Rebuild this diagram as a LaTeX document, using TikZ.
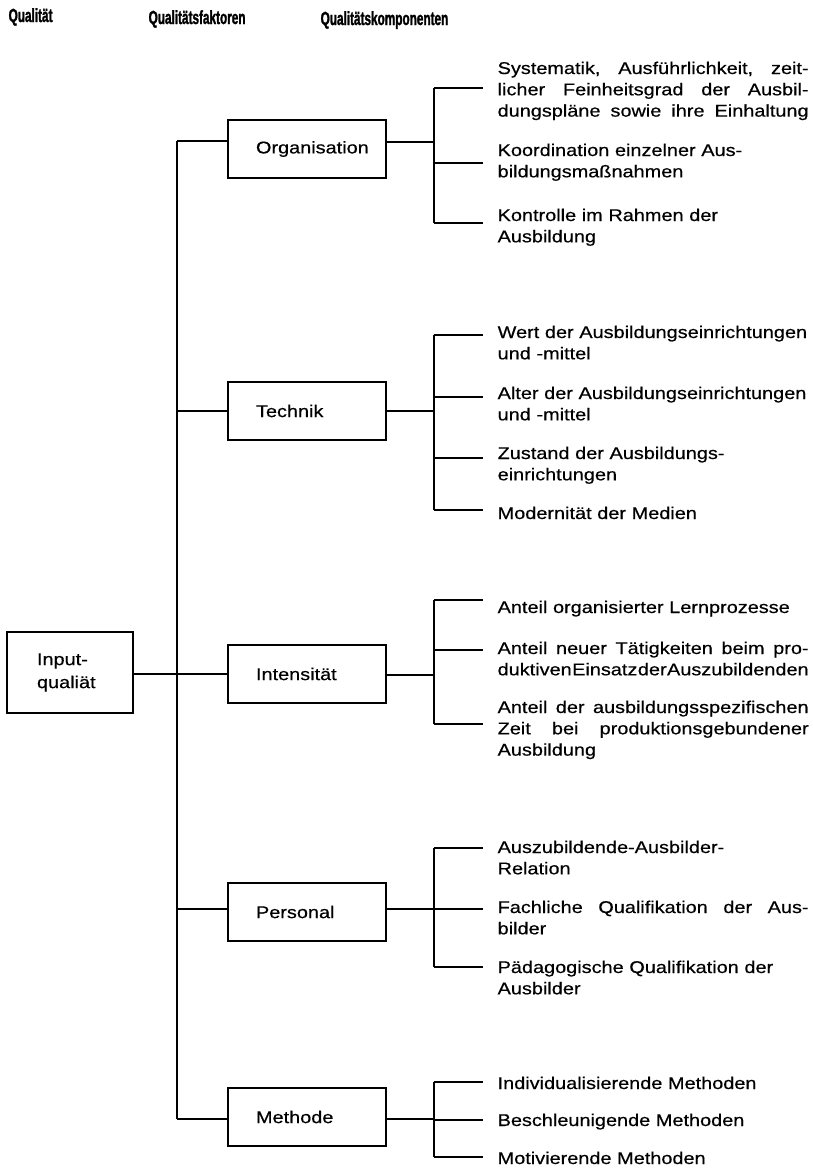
\documentclass[tikz,border=0pt]{standalone}
\usepackage{fontspec}
\setmainfont{Liberation Sans}[FakeStretch=1.17, FakeBold=0.5]
\newfontfamily\headfont{Liberation Sans}[FakeStretch=0.62, FakeBold=1.5]
\usepackage{tikz}
% justified line of a component text
\newcommand\jline[1]{\leavevmode\hbox to 311pt{\spaceskip=0.25em plus 1fil minus 0.25em
  \xspaceskip=\spaceskip\relax #1}}

\begin{document}
\begin{tikzpicture}[x=1pt, y=-1pt, line width=1.3pt,
    factor/.style={draw, line width=1.5pt, minimum height=58pt, text width=102pt,
      inner xsep=28pt, align=left, font=\fontsize{17}{21}\selectfont},
    root/.style={factor, minimum height=81pt, text width=66pt, inner xsep=30pt,
      font=\fontsize{17}{23}\selectfont},
    comp/.style={anchor=base west, inner sep=0pt, text width=311pt, align=left,
      font=\fontsize{17}{21.3}\selectfont},
    head/.style={anchor=base west, inner sep=0pt,
      font=\headfont\bfseries\fontsize{19}{20}\selectfont}]
    \useasboundingbox (0,0) rectangle (812,1170);

    % Column heads
    \node[head] (h1) at (8,22) {Qualität};
    \node[head] (h2) at (148,24) {Qualitätsfaktoren};
    \node[head] (h3) at (320,25) {Qualitätskomponenten};

    % Boxes
    \node[root] (inp) at (70,672.5) {Input-\\qualiät};
    \node[factor] (org) at (307,149) {Organisation};
    \node[factor] (tec) at (307,411) {Technik};
    \node[factor] (int) at (307,674) {Intensität};
    \node[factor] (per) at (307,912) {Personal};
    \node[factor] (met) at (307,1117) {Methode};

    % Spine
    \coordinate (s1) at (177,141);
    \coordinate (s2) at (177,411);
    \coordinate (s3) at (177,674);
    \coordinate (s4) at (177,909);
    \coordinate (s5) at (177,1119);
    \draw (s1) -- (s5);
    \draw (s1) -- (s1 -| org.west);
    \draw (s2) -- (s2 -| tec.west);
    \draw (inp.east |- s3) -- (s3 -| int.west);
    \draw (s4) -- (s4 -| per.west);
    \draw (s5) -- (s5 -| met.west);

    % Organisation
    \coordinate (ob) at (434,142);
    \draw (org.east |- ob) -- (ob);
    \node[comp] (o1) at (497,74) {\jline{Systematik, Ausführlichkeit, zeit-}\\
      \jline{licher Feinheitsgrad der Ausbil-}\\
      \jline{dungspläne sowie ihre Einhaltung}};
    \node[comp] (o2) at (497,156) {Koordination einzelner Aus-\\bildungsmaßnahmen};
    \node[comp] (o3) at (497,221) {Kontrolle im Rahmen der\\Ausbildung};
    \draw (434,88) -- (434,223);
    \foreach \n/\y in {o1/88, o2/163, o3/223}
      \draw[shorten >=14pt] (434,\y) -- (\n.west |- 434,\y);

    % Technik
    \coordinate (tb) at (434,411);
    \draw (tec.east |- tb) -- (tb);
    \node[comp] (t1) at (497,338) {Wert der Ausbildungseinrichtungen\\und -mittel};
    \node[comp] (t2) at (497,399) {Alter der Ausbildungseinrichtungen\\und -mittel};
    \node[comp] (t3) at (497,459) {Zustand der Ausbildungs-\\einrichtungen};
    \node[comp] (t4) at (497,519) {Modernität der Medien};
    \draw (434,335) -- (434,510);
    \foreach \n/\y in {t1/335, t2/397, t3/458, t4/510}
      \draw[shorten >=14pt] (434,\y) -- (\n.west |- 434,\y);

    % Intensitaet
    \coordinate (ib) at (434,675);
    \draw (int.east |- ib) -- (ib);
    \node[comp] (i1) at (497,613) {Anteil organisierter Lernprozesse};
    \node[comp] (i2) at (497,654) {\jline{Anteil neuer Tätigkeiten beim pro-}\\
      \jline{duktiven Einsatz der Auszubildenden}};
    \node[comp] (i3) at (497,713) {\jline{Anteil der ausbildungsspezifischen}\\
      \jline{Zeit bei produktionsgebundener}\\Ausbildung};
    \draw (434,600) -- (434,724);
    \foreach \n/\y in {i1/600, i2/650, i3/724}
      \draw[shorten >=14pt] (434,\y) -- (\n.west |- 434,\y);

    % Personal
    \coordinate (pb) at (434,909);
    \draw (per.east |- pb) -- (pb);
    \node[comp] (p1) at (497,853) {Auszubildende-Ausbilder-\\Relation};
    \node[comp] (p2) at (497,913) {\jline{Fachliche Qualifikation der Aus-}\\bilder};
    \node[comp] (p3) at (497,973) {Pädagogische Qualifikation der\\Ausbilder};
    \draw (434,848) -- (434,967);
    \foreach \n/\y in {p1/848, p2/909, p3/967}
      \draw[shorten >=14pt] (434,\y) -- (\n.west |- 434,\y);

    % Methode
    \coordinate (mb) at (434,1119);
    \draw (met.east |- mb) -- (mb);
    \node[comp] (m1) at (497,1089) {Individualisierende Methoden};
    \node[comp] (m2) at (497,1126) {Beschleunigende Methoden};
    \node[comp] (m3) at (497,1164) {Motivierende Methoden};
    \draw (434,1082) -- (434,1157);
    \foreach \n/\y in {m1/1082, m2/1120, m3/1157}
      \draw[shorten >=14pt] (434,\y) -- (\n.west |- 434,\y);
\end{tikzpicture}
\end{document}
